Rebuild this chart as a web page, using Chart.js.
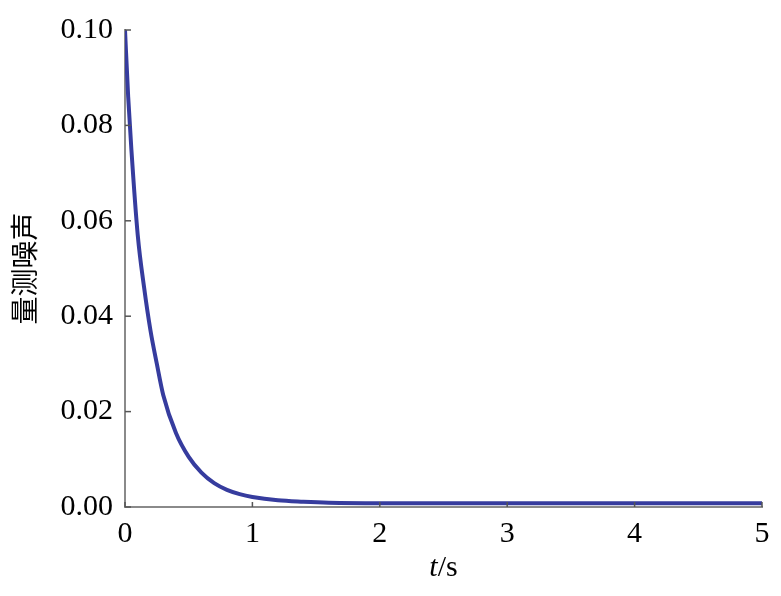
<!DOCTYPE html>
<html>
<head>
<meta charset="utf-8">
<script src="https://cdn.jsdelivr.net/npm/chart.js@4"></script>
<style>
  html, body { margin: 0; padding: 0; background: #fff; }
  #wrap { width: 781px; height: 596px; }
</style>
</head>
<body>
<div id="wrap"><canvas id="chart" width="781" height="596"></canvas></div>
<script>
const times = [0, 0.025, 0.05, 0.1, 0.15, 0.2, 0.25, 0.3, 0.4, 0.5, 0.6, 0.7, 0.8, 0.9, 1.0, 1.2, 1.4, 1.6, 2.0, 2.5, 3.0, 4.0, 5.0];
const noise = [0.100, 0.086, 0.075, 0.057, 0.046, 0.037, 0.030, 0.0235, 0.0155, 0.0105, 0.0072, 0.0050, 0.0036, 0.0027, 0.0021, 0.0014, 0.0011, 0.0009, 0.0008, 0.0008, 0.0008, 0.0008, 0.0008];
const xTicks = [0, 1, 2, 3, 4, 5];
const yTicks = [0, 0.02, 0.04, 0.06, 0.08, 0.10];

const serif = "'Liberation Serif', 'DejaVu Serif', serif";
const axisGray = '#8a8a8a';

let points = times.map((t, i) => ({ x: t, y: noise[i] }));

// small inward tick marks like the original figure
const innerTicks = {
    id: 'innerTicks',
    afterDatasetsDraw(chart) {
        const ctx = chart.ctx;
        const xs = chart.scales.x, ys = chart.scales.y;
        ctx.save();
        ctx.strokeStyle = '#555';
        ctx.lineWidth = 1.5;
        xTicks.forEach(v => {
            let px = xs.getPixelForValue(v);
            ctx.beginPath();
            ctx.moveTo(px, ys.bottom);
            ctx.lineTo(px, ys.bottom - 5);
            ctx.stroke();
        });
        yTicks.forEach(v => {
            let py = ys.getPixelForValue(v);
            ctx.beginPath();
            ctx.moveTo(xs.left, py);
            ctx.lineTo(xs.left + 6, py);
            ctx.stroke();
        });
        ctx.restore();
    }
};

// x title "t/s" with italic t
const xTitle = {
    id: 'xTitle',
    afterDraw(chart) {
        const ctx = chart.ctx;
        const xs = chart.scales.x;
        const cx = (xs.left + xs.right) / 2;
        const y = xs.bottom - 28;
        ctx.save();
        ctx.fillStyle = '#000';
        ctx.textBaseline = 'middle';
        ctx.font = 'italic 30px ' + serif;
        let w1 = ctx.measureText('t').width;
        ctx.font = '30px ' + serif;
        let w2 = ctx.measureText('/s').width;
        let x0 = cx - (w1 + w2) / 2;
        ctx.textAlign = 'left';
        ctx.font = 'italic 30px ' + serif;
        ctx.fillText('t', x0, y);
        ctx.font = '30px ' + serif;
        ctx.fillText('/s', x0 + w1, y);
        ctx.restore();
    }
};

const ctx = document.getElementById('chart').getContext('2d');
const chart = new Chart(ctx, {
    type: 'scatter',
    data: {
        datasets: [{
            data: points,
            showLine: true,
            borderColor: '#363c9e',
            borderWidth: 4,
            pointRadius: 0,
            cubicInterpolationMode: 'monotone'
        }, {
            data: points,
            showLine: true,
            borderColor: '#1c1f55',
            borderWidth: 1.2,
            pointRadius: 0,
            cubicInterpolationMode: 'monotone'
        }]
    },
    options: {
        responsive: false,
        animation: false,
        layout: { padding: { top: 29, right: 19, left: 0, bottom: 0 } },
        plugins: { legend: { display: false }, tooltip: { enabled: false } },
        scales: {
            x: {
                type: 'linear',
                min: 0,
                max: 5,
                afterBuildTicks: (scale) => { scale.ticks = xTicks.map(v => ({ value: v })); },
                afterFit: (scale) => { scale.height = 89; },
                grid: { display: false, drawTicks: false },
                border: { color: axisGray, width: 2 },
                ticks: {
                    color: '#000',
                    padding: 9,
                    font: { family: serif, size: 30 },
                    callback: (v) => String(v)
                }
            },
            y: {
                min: 0,
                max: 0.10,
                afterBuildTicks: (scale) => { scale.ticks = yTicks.map(v => ({ value: v })); },
                afterFit: (scale) => { scale.width = 125; },
                grid: { display: false, drawTicks: false },
                border: { color: axisGray, width: 2 },
                ticks: {
                    color: '#000',
                    padding: 12,
                    font: { family: serif, size: 30 },
                    callback: (v) => v.toFixed(2)
                },
                title: {
                    display: true,
                    text: '量测噪声',
                    color: '#000',
                    font: { family: "'Noto Sans CJK SC', sans-serif", size: 28 },
                    padding: { top: 8, bottom: 0 }
                }
            }
        }
    },
    plugins: [innerTicks, xTitle]
});
</script>
</body>
</html>
